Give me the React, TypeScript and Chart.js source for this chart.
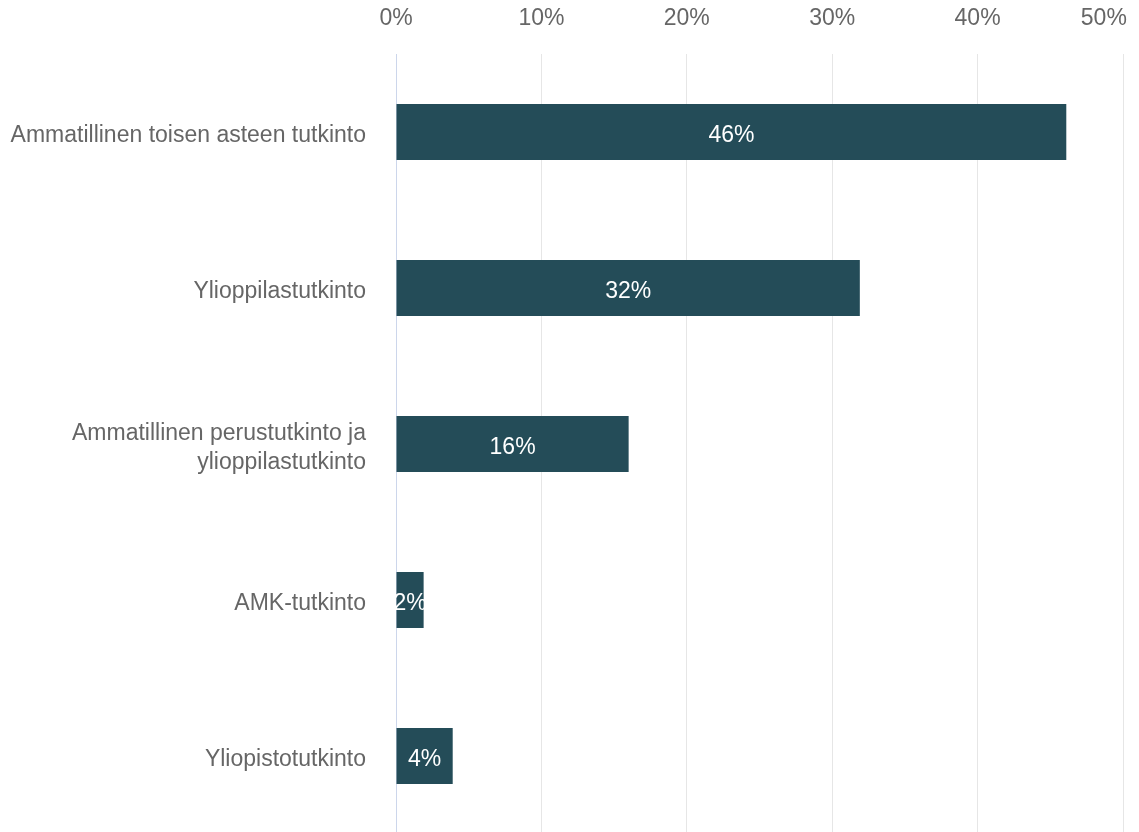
import React, { useEffect, useRef } from "react";
import { Chart, registerables } from "chart.js";

Chart.register(...registerables);

const categories: (string | string[])[] = [
  "Ammatillinen toisen asteen tutkinto",
  "Ylioppilastutkinto",
  ["Ammatillinen perustutkinto ja", "ylioppilastutkinto"],
  "AMK-tutkinto",
  "Yliopistotutkinto",
];
const values = [46.1, 31.9, 16.0, 1.9, 3.9];
const valueLabels = ["46%", "32%", "16%", "2%", "4%"];
const xTicks = [0, 10, 20, 30, 40, 50];

const FONT = "'Liberation Sans', Arial, sans-serif";

const dataLabelPlugin = {
  id: "dataLabels",
  afterDatasetsDraw(chart: any) {
    const ctx = chart.ctx;
    const meta = chart.getDatasetMeta(0);
    ctx.save();
    ctx.fillStyle = "#ffffff";
    ctx.font = `23px ${FONT}`;
    ctx.textAlign = "center";
    ctx.textBaseline = "middle";
    meta.data.forEach((bar: any, i: number) => {
      const cx = (bar.x + bar.base) / 2;
      ctx.fillText(valueLabels[i], cx, bar.y + 4);
    });
    ctx.restore();
  },
};

export default function App() {
  const ref = useRef<HTMLCanvasElement | null>(null);
  useEffect(() => {
    if (!ref.current) return;
    const chart = new Chart(ref.current, {
      type: "bar",
      data: {
        labels: categories,
        datasets: [
          {
            data: values,
            backgroundColor: "#244c58",
            borderWidth: 0,
            categoryPercentage: 0.8,
            barPercentage: 0.45,
          },
        ],
      },
      options: {
        indexAxis: "y",
        animation: false,
        responsive: false,
        maintainAspectRatio: false,
        layout: { padding: { left: 0, right: 16, top: 0, bottom: 0 } },
        plugins: {
          legend: { display: false },
          tooltip: { enabled: false },
        },
        scales: {
          x: {
            position: "top",
            min: 0,
            max: 50,
            afterBuildTicks: (scale: any) => {
              scale.ticks = xTicks.map((v) => ({ value: v }));
            },
            afterFit: (scale: any) => {
              scale.height = 54;
              scale.paddingLeft = 0;
              scale.paddingRight = 0;
            },
            ticks: {
              color: "#666666",
              font: { family: FONT, size: 23 },
              padding: 22,
              maxRotation: 0,
              callback: (v: any) => (v === 50 ? `${v}%      ` : `${v}%`),
            },
            grid: {
              drawTicks: false,
              color: (c: any) => (c.tick && c.tick.value === 0 ? "#ccd6eb" : "#e6e6e6"),
              lineWidth: 1,
            },
            border: { display: false },
          },
          y: {
            afterFit: (scale: any) => {
              scale.width = 396;
              scale.paddingTop = 0;
              scale.paddingBottom = 0;
            },
            ticks: {
              color: "#666666",
              font: { family: FONT, size: 23, lineHeight: 1.25 },
              padding: 30,
              labelOffset: 4,
            },
            grid: { display: false, drawTicks: false },
            border: { display: true, color: "#ccd6eb", width: 1 },
          },
        },
      },
      plugins: [dataLabelPlugin],
    } as any);
    return () => chart.destroy();
  }, []);
  return (
    <div
      style={{
        position: "fixed",
        left: 0,
        top: 0,
        width: 1139,
        height: 832,
        overflow: "hidden",
        background: "#ffffff",
      }}
    >
      <canvas ref={ref} width={1139} height={834} style={{ display: "block" }} />
    </div>
  );
}
